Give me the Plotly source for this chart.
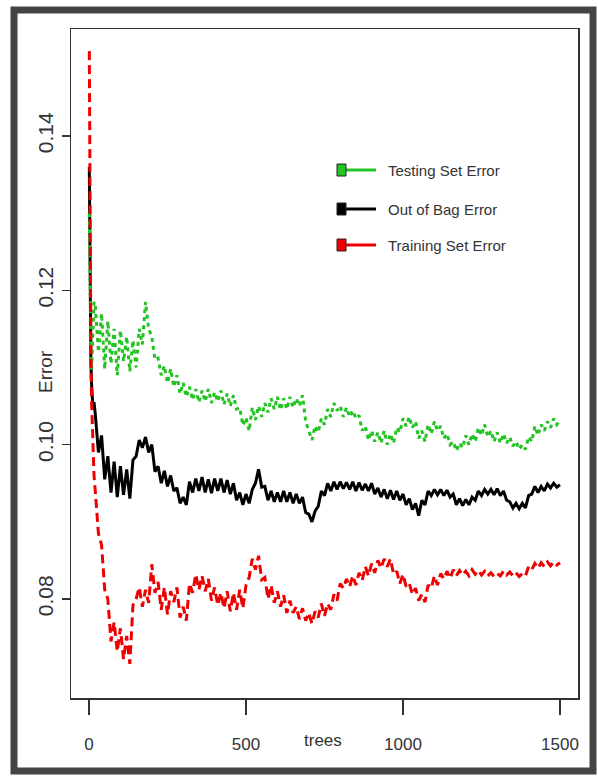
import plotly.graph_objects as go

# ---------------- data ----------------
trees = [1, 2, 3, 4, 6, 8, 10, 13, 16] + list(range(20, 1501, 10))

testing_err = [
    0.1300, 0.1240, 0.1190, 0.1150, 0.1125, 0.1095, 0.1120, 0.1165, 0.1185,
    0.1180, 0.1120, 0.1170, 0.1098, 0.1160, 0.1105, 0.1150, 0.1090, 0.1148, 0.1108,
    0.1140, 0.1095, 0.1135, 0.1100, 0.1150, 0.1130, 0.1185, 0.1150, 0.1140, 0.1110,
    0.1112, 0.1090, 0.1102, 0.1080, 0.1098, 0.1075, 0.1090, 0.1066, 0.1080, 0.1062,
    0.1075, 0.1058, 0.1072, 0.1055, 0.1070, 0.1056, 0.1072, 0.1054, 0.1068, 0.1056,
    0.1070, 0.1052, 0.1066, 0.1050, 0.1064, 0.1046, 0.1048, 0.1025, 0.1035, 0.1018,
    0.1048, 0.1032, 0.1050, 0.1036, 0.1054, 0.1042, 0.1060, 0.1046, 0.1062, 0.1045,
    0.1060, 0.1046, 0.1062, 0.1048, 0.1060, 0.1050, 0.1064, 0.1030, 0.1018, 0.1006,
    0.1024, 0.1016, 0.1034, 0.1026, 0.1046, 0.1036, 0.1054, 0.1044, 0.1050, 0.1036,
    0.1048, 0.1036, 0.1044, 0.1034, 0.1038, 0.1018, 0.1024, 0.1006, 0.1018, 0.1004,
    0.1016, 0.1002, 0.1018, 0.1000, 0.1014, 0.1002, 0.1022, 0.1016, 0.1034, 0.1024,
    0.1036, 0.1022, 0.1030, 0.1008, 0.1018, 0.1004, 0.1026, 0.1014, 0.1030, 0.1018,
    0.1024, 0.1008, 0.1014, 0.1000, 0.1004, 0.0992, 0.1002, 0.0996, 0.1012, 0.1000,
    0.1014, 0.1004, 0.1022, 0.1012, 0.1026, 0.1010, 0.1018, 0.1004, 0.1016, 0.1002,
    0.1014, 0.1002, 0.1010, 0.0998, 0.1004, 0.0994, 0.1000, 0.0994, 0.1010, 0.1004,
    0.1024, 0.1012, 0.1026, 0.1018, 0.1030, 0.1022, 0.1034, 0.1026, 0.1032,
]

oob_err = [
    0.1360, 0.1290, 0.1220, 0.1160, 0.1110, 0.1080, 0.1060, 0.1045, 0.1055,
    0.1040, 0.0990, 0.1012, 0.0955, 0.0985, 0.0938, 0.0978, 0.0932, 0.0972, 0.0935,
    0.0968, 0.0930, 0.0980, 0.0985, 0.1006, 0.0996, 0.1010, 0.0990, 0.1000, 0.0965,
    0.0972, 0.0950, 0.0966, 0.0946, 0.0960, 0.0940, 0.0944, 0.0924, 0.0932, 0.0922,
    0.0952, 0.0938, 0.0956, 0.0940, 0.0958, 0.0938, 0.0955, 0.0937, 0.0956, 0.0940,
    0.0956, 0.0938, 0.0954, 0.0936, 0.0950, 0.0928, 0.0938, 0.0922, 0.0936, 0.0924,
    0.0942, 0.0950, 0.0968, 0.0945, 0.0946, 0.0928, 0.0940, 0.0926, 0.0938, 0.0926,
    0.0940, 0.0926, 0.0938, 0.0924, 0.0936, 0.0924, 0.0932, 0.0912, 0.0910, 0.0900,
    0.0914, 0.0920, 0.0940, 0.0934, 0.0950, 0.0940, 0.0952, 0.0942, 0.0952, 0.0943,
    0.0951, 0.0942, 0.0952, 0.0940, 0.0951, 0.0941, 0.0949, 0.0940, 0.0950, 0.0936,
    0.0944, 0.0932, 0.0942, 0.0930, 0.0941, 0.0929, 0.0940, 0.0928, 0.0936, 0.0922,
    0.0930, 0.0916, 0.0924, 0.0908, 0.0928, 0.0922, 0.0940, 0.0934, 0.0942, 0.0935,
    0.0942, 0.0934, 0.0941, 0.0932, 0.0936, 0.0922, 0.0930, 0.0921, 0.0929, 0.0922,
    0.0932, 0.0928, 0.0940, 0.0934, 0.0942, 0.0936, 0.0942, 0.0935, 0.0943, 0.0934,
    0.0940, 0.0928, 0.0926, 0.0918, 0.0924, 0.0917, 0.0924, 0.0918, 0.0934, 0.0936,
    0.0946, 0.0938, 0.0946, 0.0940, 0.0949, 0.0944, 0.0950, 0.0945, 0.0948,
]

training_err = [
    0.1510, 0.1420, 0.1300, 0.1200, 0.1120, 0.1060, 0.1030, 0.0990, 0.0960,
    0.0940, 0.0885, 0.0870, 0.0812, 0.0800, 0.0745, 0.0770, 0.0732, 0.0762, 0.0722,
    0.0752, 0.0716, 0.0792, 0.0800, 0.0815, 0.0790, 0.0812, 0.0795, 0.0845, 0.0808,
    0.0822, 0.0786, 0.0815, 0.0780, 0.0810, 0.0796, 0.0815, 0.0776, 0.0790, 0.0772,
    0.0820, 0.0808, 0.0832, 0.0812, 0.0830, 0.0810, 0.0826, 0.0798, 0.0815, 0.0792,
    0.0808, 0.0788, 0.0810, 0.0784, 0.0808, 0.0786, 0.0812, 0.0788, 0.0818, 0.0828,
    0.0852, 0.0838, 0.0856, 0.0825, 0.0828, 0.0800, 0.0818, 0.0795, 0.0810, 0.0790,
    0.0805, 0.0782, 0.0798, 0.0782, 0.0790, 0.0774, 0.0788, 0.0772, 0.0782, 0.0768,
    0.0784, 0.0776, 0.0794, 0.0778, 0.0794, 0.0786, 0.0806, 0.0798, 0.0820, 0.0814,
    0.0826, 0.0816, 0.0830, 0.0818, 0.0834, 0.0824, 0.0842, 0.0830, 0.0846, 0.0834,
    0.0850, 0.0840, 0.0852, 0.0842, 0.0852, 0.0832, 0.0836, 0.0820, 0.0832, 0.0816,
    0.0820, 0.0806, 0.0814, 0.0798, 0.0806, 0.0796, 0.0818, 0.0814, 0.0830, 0.0818,
    0.0833, 0.0826, 0.0836, 0.0827, 0.0838, 0.0830, 0.0837, 0.0831, 0.0836, 0.0830,
    0.0838, 0.0832, 0.0837, 0.0831, 0.0836, 0.0830, 0.0834, 0.0829, 0.0833, 0.0830,
    0.0836, 0.0831, 0.0835, 0.0830, 0.0834, 0.0829, 0.0833, 0.0830, 0.0842, 0.0838,
    0.0846, 0.0840, 0.0847, 0.0842, 0.0848, 0.0843, 0.0848, 0.0844, 0.0847,
]

series_names = ["Testing Set Error", "Out of Bag Error", "Training Set Error"]
x_ticks = [0, 500, 1000, 1500]
y_ticks = [0.08, 0.10, 0.12, 0.14]
y_tick_text = ["0.08", "0.10", "0.12", "0.14"]

assert len(trees) == len(testing_err) == len(oob_err) == len(training_err)

# ---------------- layout helpers ----------------
W, H = 598, 776
L, R, T, B = 71, 578, 29, 698   # plot-area box in pixels


def px(x):
    return (x - L) / (R - L)


def py(y):
    return (B - y) / (B - T)


GREEN = "#22c322"
BLACK = "#000000"
RED = "#ee0000"
TXT = "#333333"
SANS = "Liberation Sans, Arial, sans-serif"

fig = go.Figure()
fig.add_trace(go.Scatter(x=trees, y=oob_err, mode="lines", name=series_names[1],
                         line=dict(color=BLACK, width=3)))
fig.add_trace(go.Scatter(x=trees, y=testing_err, mode="lines", name=series_names[0],
                         line=dict(color=GREEN, width=3, dash="4px,4px")))
fig.add_trace(go.Scatter(x=trees, y=training_err, mode="lines", name=series_names[2],
                         line=dict(color=RED, width=3, dash="9px,5px")))

shapes = []
annotations = []

# outer dark frame
shapes.append(dict(type="rect", xref="paper", yref="paper",
                   x0=px(14), x1=px(593), y0=py(771), y1=py(10),
                   line=dict(color="#444444", width=7), fillcolor="rgba(0,0,0,0)",
                   layer="below"))

# manual legend
leg_rows = [(170, GREEN, series_names[0]), (209, BLACK, series_names[1]),
            (245, RED, series_names[2])]
for yy, col, name in leg_rows:
    shapes.append(dict(type="line", xref="paper", yref="paper",
                       x0=px(345), x1=px(376), y0=py(yy), y1=py(yy),
                       line=dict(color=col, width=3)))
    shapes.append(dict(type="rect", xref="paper", yref="paper",
                       x0=px(337), x1=px(346), y0=py(yy + 6), y1=py(yy - 6),
                       line=dict(color="#222222", width=1), fillcolor=col))
    annotations.append(dict(xref="paper", yref="paper", x=px(386), y=py(yy),
                            xanchor="left", yanchor="middle", showarrow=False,
                            text=name,
                            font=dict(family=SANS, size=15, color=TXT)))

# axis titles (positioned as in the reference)
annotations.append(dict(xref="paper", yref="paper", x=px(45), y=py(372),
                        xanchor="center", yanchor="middle", showarrow=False,
                        text="Error", textangle=-90,
                        font=dict(family=SANS, size=19, color=TXT)))
annotations.append(dict(xref="paper", yref="paper", x=px(323), y=py(740),
                        xanchor="center", yanchor="middle", showarrow=False,
                        text="trees",
                        font=dict(family=SANS, size=17, color=TXT)))

xpx0, xpx1500 = 89.0, 560.0
scale_x = (xpx1500 - xpx0) / 1500.0
x_range = [(L - xpx0) / scale_x, (R - xpx0) / scale_x]

ypx08, ypx14 = 599.0, 136.0
scale_y = (ypx08 - ypx14) / (0.14 - 0.08)
y_range = [0.08 - (B - ypx08) / scale_y, 0.14 + (ypx14 - T) / scale_y]

fig.update_layout(
    width=W, height=H,
    margin=dict(l=L, r=W - R, t=T, b=H - B, pad=0),
    paper_bgcolor="white", plot_bgcolor="white",
    showlegend=False,
    hovermode=False,
    shapes=shapes, annotations=annotations,
    xaxis=dict(range=x_range, tickvals=x_ticks, ticks="outside", ticklen=15,
               tickwidth=1.5, tickcolor=TXT, showgrid=False, zeroline=False,
               showline=True, linecolor=TXT, linewidth=1.5, mirror=True,
               ticklabelstandoff=15,
               tickfont=dict(family=SANS, size=17, color=TXT)),
    yaxis=dict(range=y_range, tickvals=y_ticks, ticktext=y_tick_text,
               ticks="outside", ticklen=8,
               tickwidth=1.5, tickcolor=TXT, showgrid=False, zeroline=False,
               showline=True, linecolor=TXT, linewidth=1.5, mirror=True,
               tickangle=-90, ticklabelstandoff=0,
               tickfont=dict(family=SANS, size=21, color=TXT)),
)

fig.write_html("out.html",
               config={"displayModeBar": False, "staticPlot": True},
               post_script="document.body.style.margin='0';document.body.style.overflow='hidden';")
